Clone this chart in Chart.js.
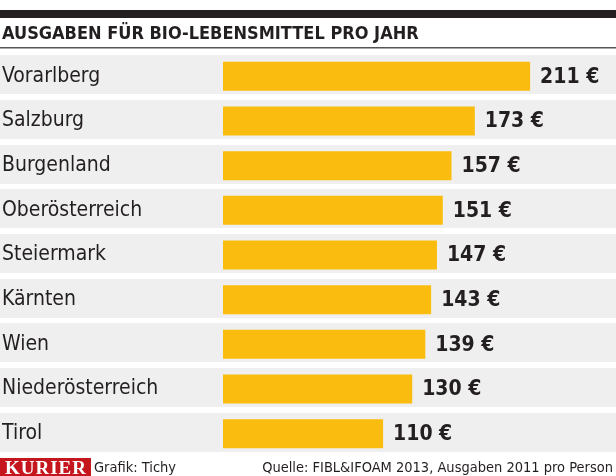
<!DOCTYPE html>
<html><head><meta charset="utf-8">
<script src="https://cdn.jsdelivr.net/npm/chart.js@4/dist/chart.umd.min.js"></script>
<style>html,body{margin:0;padding:0;background:#fff}#wrap{width:616px;height:476px}</style>
</head><body><div id="wrap"><canvas id="c" width="616" height="476"></canvas></div>
<script>
const categories = ['Vorarlberg','Salzburg','Burgenland','Oberösterreich','Steiermark','Kärnten','Wien','Niederösterreich','Tirol'];
const values = [211,173,157,151,147,143,139,130,110];
const unit = '€';
const titleText = 'AUSGABEN FÜR BIO-LEBENSMITTEL PRO JAHR';
const brandText = 'KURIER';
const creditText = 'Grafik: Tichy';
const sourceText = 'Quelle: FIBL&IFOAM 2013, Ausgaben 2011 pro Person';

const FONT = "'Liberation Sans Narrow','DejaVu Sans Condensed','Roboto Condensed',sans-serif";

const decor = {
  id: 'decor',
  beforeDraw(chart) {
    const ctx = chart.ctx, y = chart.scales.y;
    ctx.save();
    ctx.fillStyle = '#fff';
    ctx.fillRect(0, 0, chart.width, chart.height);
    ctx.fillStyle = '#efefef';
    categories.forEach((c, i) => {
      const yc = y.getPixelForValue(i);
      ctx.fillRect(0, Math.round(yc - 21), chart.width, 39);
    });
    ctx.restore();
  },
  afterDatasetsDraw(chart) {
    const ctx = chart.ctx, meta = chart.getDatasetMeta(0);
    ctx.save();
    ctx.fillStyle = '#231f20';
    ctx.font = "bold 21px " + FONT;
    ctx.textBaseline = 'middle';
    ctx.textAlign = 'left';
    meta.data.forEach((bar, i) => {
      ctx.fillText(values[i] + ' ' + unit, bar.x + 10, bar.y + 1);
    });
    ctx.restore();
  },
  afterDraw(chart) {
    const ctx = chart.ctx, W = chart.width;
    ctx.save();
    ctx.fillStyle = '#231f20';
    ctx.fillRect(0, 10, W, 8);
    ctx.font = "bold 18px " + FONT;
    ctx.textBaseline = 'alphabetic';
    ctx.textAlign = 'left';
    ctx.fillText(titleText, 2, 39);
    ctx.fillStyle = '#555';
    ctx.fillRect(0, 47, W, 1.5);
    // footer
    ctx.fillStyle = '#c4161c';
    ctx.fillRect(0, 458, 91, 18);
    ctx.fillStyle = '#fff';
    ctx.font = "bold 19px 'Liberation Serif','DejaVu Serif',serif";
    ctx.textAlign = 'left';
    if ('letterSpacing' in ctx) ctx.letterSpacing = '1px';
    ctx.fillText(brandText, 5, 474);
    if ('letterSpacing' in ctx) ctx.letterSpacing = '0px';
    ctx.fillStyle = '#231f20';
    ctx.font = "14.5px " + FONT;
    ctx.fillText(creditText, 94, 472);
    ctx.textAlign = 'right';
    ctx.fillText(sourceText, 613, 472);
    ctx.restore();
  }
};

new Chart(document.getElementById('c'), {
  type: 'bar',
  data: {
    labels: categories,
    datasets: [{
      data: values,
      backgroundColor: '#fabd0f',
      borderWidth: 0,
      barPercentage: 0.65,
      categoryPercentage: 1
    }]
  },
  options: {
    indexAxis: 'y',
    responsive: false,
    animation: false,
    devicePixelRatio: 1,
    layout: { padding: { top: 54, bottom: 20, left: 2, right: 0 } },
    plugins: { legend: { display: false }, tooltip: { enabled: false }, title: { display: false } },
    scales: {
      x: { display: false, min: 0, max: 270 },
      y: {
        grid: { display: false, drawTicks: false },
        border: { display: false },
        afterFit(scale) { scale.width = 221; },
        ticks: {
          crossAlign: 'far',
          padding: 0,
          color: '#231f20',
          font: { family: FONT, size: 21 }
        }
      }
    }
  },
  plugins: [decor]
});
</script>
</body></html>
